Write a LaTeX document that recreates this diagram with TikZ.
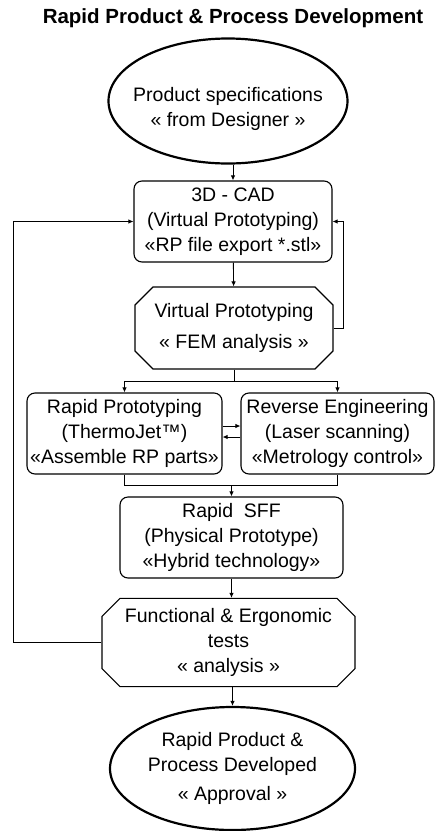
\documentclass[tikz,border=0pt]{standalone}
\usepackage{fontspec}
\setmainfont{Liberation Sans}
\usetikzlibrary{shapes.geometric, shapes.misc, arrows.meta}

\begin{document}
\begin{tikzpicture}[x=1pt, y=-1pt,
    txt/.style={align=center, inner sep=0pt, font=\fontsize{19.5}{25}\selectfont},
    stepbox/.style={txt, draw, line width=1.1pt, rounded corners=8pt},
    octbox/.style={txt, draw, line width=1.1pt, chamfered rectangle, chamfered rectangle xsep=8pt, chamfered rectangle ysep=10pt},
    oval/.style={txt, draw, ellipse, line width=2.2pt},
    link/.style={draw, line width=0.9pt, -{Latex[length=5pt, width=4.5pt]}},
    joint/.style={draw, line width=0.9pt}]
    \useasboundingbox (0,0) rectangle (435,831);

    % Title
    \node[font=\fontsize{20.5}{24}\selectfont\bfseries, inner sep=0pt] (title) at (233,18) {Rapid Product \& Process Development};

    % Start ellipse
    \node[oval, minimum width=239pt, minimum height=125pt] (spec) at (228,101) {};
    \node[txt] (spectxt) at (228,109) {Product specifications\\« from Designer »};

    % Virtual prototyping loop
    \node[stepbox, minimum width=198pt, minimum height=81pt] (cad) at (233,221.5) {3D - CAD\\(Virtual Prototyping)\\«RP file export *.stl»};
    \node[octbox, minimum width=198pt, minimum height=82pt] (vp) at (234,328) {Virtual Prototyping\\[6pt]« FEM analysis »};

    % Parallel branches
    \node[stepbox, minimum width=195pt, minimum height=81pt] (rp) at (124.5,433.5) {Rapid Prototyping\\(ThermoJet™)\\«Assemble RP parts»};
    \node[stepbox, minimum width=193pt, minimum height=81pt] (re) at (337.5,433.5) {Reverse Engineering\\(Laser scanning)\\«Metrology control»};

    % Physical prototype and tests
    \node[stepbox, minimum width=223pt, minimum height=81pt] (sff) at (231.5,537.5) {Rapid~~SFF\\(Physical Prototype)\\«Hybrid technology»};
    \node[octbox, minimum width=253pt, minimum height=81pt] (test) at (228.5,642.5) {Functional \& Ergonomic\\tests\\« analysis »};

    % End ellipse
    \node[oval, minimum width=245pt, minimum height=123pt] (done) at (232.5,768.5) {Rapid Product \&\\Process Developed\\[4pt]« Approval »};

    % Draw the connectors
    \draw[link] (cad.north |- spec.south) -- (cad.north);
    \draw[link] (cad) -- (vp);
    \draw[link] (vp.east) -- ++(10,0) |- (cad.east);

    \draw[joint] (vp.south) -- ++(0,12) coordinate (split);
    \draw[link] (split) -| (rp.north);
    \draw[link] (split) -| (re.north);

    \draw[link] ([yshift=7.5pt]rp.east) -- ([yshift=7.5pt]re.west);
    \draw[link] ([yshift=-3.5pt]re.west) -- ([yshift=-3.5pt]rp.east);

    \draw[joint] (rp.south) -- ++(0,11) coordinate (join) -| (re.south);
    \draw[link] (join -| sff.north) -- (sff.north);

    \draw[link] (sff) -- (sff |- test.north);
    \draw[link] (done.north |- test.south) -- (done.north);

    % Feedback from the tests
    \draw[link] (test.west) -- ++(-88,0) |- (cad.west);

\end{tikzpicture}
\end{document}
